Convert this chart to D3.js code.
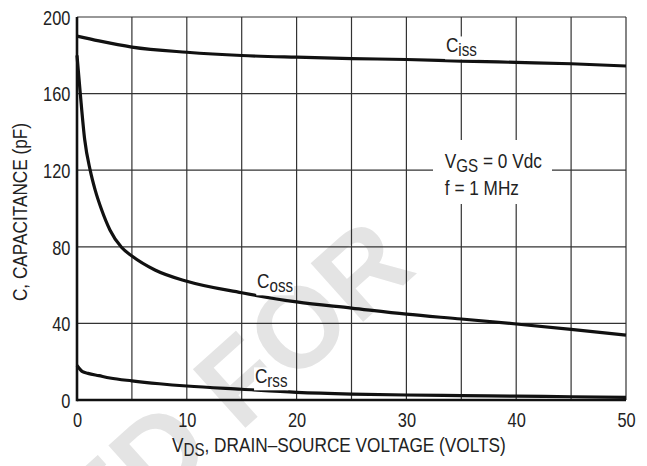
<!DOCTYPE html>
<html>
<head>
<meta charset="utf-8">
<script src="https://cdn.jsdelivr.net/npm/d3@7/dist/d3.min.js"></script>
<style>
	body { margin:0; background:#fff; }
	svg text { font-family: "Liberation Sans", Arial, sans-serif; fill:#222; }
	.grid line { stroke:#333; stroke-width:1.2; }
	.curve { fill:none; stroke:#111; stroke-width:3.2; }
</style>
</head>
<body>
<div id="chart"></div>
<script>

//data
const xTicks = [0,10,20,30,40,50];
const yTicks = [0,40,80,120,160,200];

const cissV = [0,2,5,10,15,20,25,30,35,40,45,50];
const cissC = [190,187.5,184.3,181.6,179.9,179,178.3,177.8,177,176.3,175.6,174.4];

const cossV = [0,0.3,0.7,1.2,1.65,2.25,3,4.07,5,7.1,10,15,20,25,30,35,40,45,50];
const cossC = [180,160,136,120,109.7,99.2,88.8,79.6,75.2,67.9,62,56,51.2,48,44.8,42.3,39.7,36.9,33.9];

const crssV = [0,0.5,1,2,3,5,7.5,10,15,20,25,30,35,40,45,50];
const crssC = [18,14.8,13.9,12.7,11.5,10,8.5,7.3,5.6,4.0,3.1,2.6,2.3,2.0,1.7,1.4];


//sizing
let width = 647;
let height = 466;
let margin = {top:17, right:21, bottom:66, left:77};

//condensed look: arial squeezed horizontally
const squeeze = 0.82;

let svg = d3.select("#chart")
	.append("svg")
	.attr("width", width)
	.attr("height", height);

const xScale = d3.scaleLinear()
	.domain([0,50])
	.range([margin.left, width-margin.right]);

const yScale = d3.scaleLinear()
	.domain([0,200])
	.range([height-margin.bottom, margin.top]);


//watermark
svg.append("text")
	.attr("transform", "translate(392,242) rotate(-42)")
	.attr("text-anchor", "end")
	.attr("dy", "0.35em")
	.style("font-weight", "bold")
	.style("font-size", "114px")
	.style("fill", "#e4e4e4")
	.text("ED FOR");


//grid
let grid = svg.append("g").attr("class", "grid");

grid.selectAll(".vline")
	.data(d3.range(5,55,5))
	.enter()
	.append("line")
	.attr("x1", d => xScale(d))
	.attr("x2", d => xScale(d))
	.attr("y1", yScale(0))
	.attr("y2", yScale(200));

grid.selectAll(".hline")
	.data(yTicks.slice(1))
	.enter()
	.append("line")
	.attr("x1", xScale(0))
	.attr("x2", xScale(50))
	.attr("y1", d => yScale(d))
	.attr("y2", d => yScale(d));


//axes
const xAxis = d3.axisBottom(xScale)
	.tickValues(xTicks)
	.tickSize(0)
	.tickPadding(13);

const yAxis = d3.axisLeft(yScale)
	.tickValues(yTicks)
	.tickSize(0)
	.tickPadding(8);

svg.append("g")
	.attr("class", "axis x_axis")
	.attr("transform", `translate(0,${yScale(0)})`)
	.call(xAxis);

svg.append("g")
	.attr("class", "axis y_axis")
	.attr("transform", `translate(${xScale(0)},0)`)
	.call(yAxis);

svg.selectAll(".axis .domain").remove();
svg.selectAll(".axis text")
	.style("font-size", "20px")
	.attr("fill", "#222")
	.attr("transform", `scale(${squeeze},1)`);

svg.select(".y_axis").selectAll("text").attr("dy", "0.36em");

//thick left and bottom frame
svg.append("line")
	.attr("x1", xScale(0)).attr("x2", xScale(0))
	.attr("y1", yScale(0)+1.2).attr("y2", yScale(200))
	.attr("stroke", "#111").attr("stroke-width", 2.6);

svg.append("line")
	.attr("x1", xScale(0)).attr("x2", xScale(50))
	.attr("y1", yScale(0)).attr("y2", yScale(0))
	.attr("stroke", "#111").attr("stroke-width", 2.6);


//curves
let line = d3.line()
	.x(d => xScale(d[0]))
	.y(d => yScale(d[1]))
	.curve(d3.curveMonotoneX);

[[cissV,cissC],[cossV,cossC],[crssV,crssC]].forEach(s => {
	svg.append("path")
		.datum(d3.zip(s[0], s[1]))
		.attr("class", "curve")
		.attr("d", line);
});


//text with a subscript, squeezed
function subText(x, y, main, sub, rest, halo){
	let g = svg.append("g")
		.attr("transform", `translate(${x},${y}) scale(${squeeze},1)`);
	let bg = g.append("rect").attr("fill", "#fff");
	let t = g.append("text")
		.style("font-size", "21px");
	t.append("tspan").text(main);
	t.append("tspan")
		.attr("dy", 4)
		.style("font-size", "18.5px")
		.text(sub);
	if (rest) {
		t.append("tspan")
			.attr("dy", -4)
			.text(rest);
	}
	if (halo) {
		let b = t.node().getBBox();
		bg.attr("x", b.x-1).attr("y", b.y+3).attr("width", b.width+2).attr("height", b.height-4);
	}
	return g;
}

subText(xScale(33.6), yScale(181.7), "C", "iss", null, true);
subText(xScale(16.4), yScale(58.5), "C", "oss", null, true);
subText(xScale(16.2), yScale(8.9), "C", "rss", null, true);


//conditions box
svg.append("rect")
	.attr("x", 433)
	.attr("y", 140)
	.attr("width", 119)
	.attr("height", 64)
	.attr("fill", "#fff");

subText(xScale(33.5), yScale(121), "V", "GS", " = 0 Vdc", false);

svg.append("text")
	.attr("transform", `translate(${xScale(33.5)},${yScale(107)}) scale(${squeeze},1)`)
	.style("font-size", "21px")
	.text("f = 1 MHz");


//axis titles
subText(172, 452, "V", "DS", ", DRAIN\u2013SOURCE VOLTAGE (VOLTS)", false);

svg.append("text")
	.attr("transform", `translate(27,212) rotate(-90) scale(${squeeze},1)`)
	.attr("text-anchor", "middle")
	.style("font-size", "21px")
	.text("C, CAPACITANCE (pF)");

</script>
</body>
</html>
